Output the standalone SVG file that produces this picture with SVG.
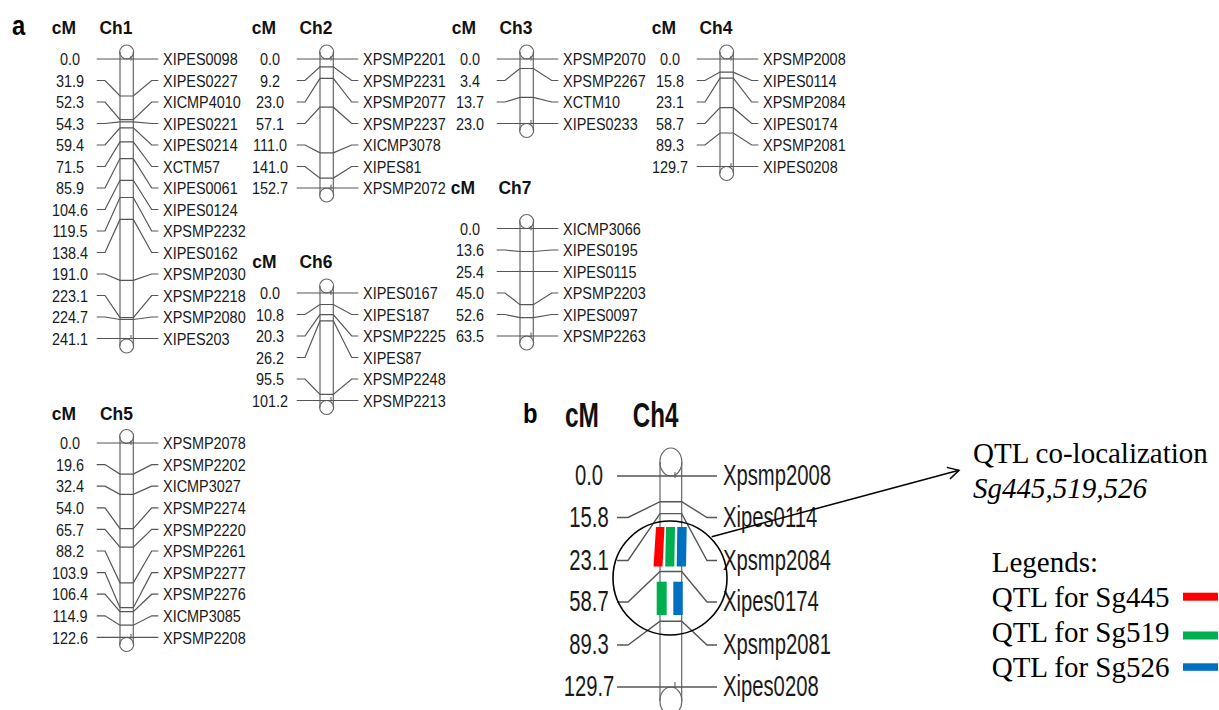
<svg xmlns="http://www.w3.org/2000/svg" width="1219" height="710" viewBox="0 0 1219 710">
<defs>
<style>
.ln{fill:none;stroke:#555;stroke-width:1.2}
.chr{fill:none;stroke:#666;stroke-width:1.2}
.t{font-family:"Liberation Sans",Arial,sans-serif;font-size:17px;fill:#1a1a1a}
.m{text-anchor:middle}
.h{font-family:"Liberation Sans",Arial,sans-serif;font-size:19px;font-weight:bold;fill:#111;text-anchor:middle}
.tb{font-family:"Liberation Sans",Arial,sans-serif;font-size:30px;fill:#1a1a1a}
.hb{font-family:"Liberation Sans",Arial,sans-serif;font-size:35px;font-weight:bold;fill:#111;text-anchor:middle}
.pl{font-family:"Liberation Sans",Arial,sans-serif;font-size:28px;font-weight:bold;fill:#000}
.sf{font-family:"Liberation Serif","Times New Roman",serif;font-size:29px;fill:#000}
.tk{stroke:#555;stroke-width:1}
</style>
<marker id="arr" viewBox="0 0 14 14" refX="12" refY="7" markerWidth="14" markerHeight="14" markerUnits="userSpaceOnUse" orient="auto">
<path d="M1 1 L12 7 L1 13" fill="none" stroke="#000" stroke-width="1.5"/>
</marker>
</defs>
<rect width="1219" height="710" fill="#fff"/>

<g id="label-a"><g transform="translate(12,35) scale(0.85,1)"><text class="pl" x="0" y="0">a</text></g></g>

<!-- Ch1 -->
<g id="ch1">
<g transform="translate(64,34) scale(0.92,1)"><text class="h" x="0" y="0">cM</text></g>
<g transform="translate(116,34) scale(0.92,1)"><text class="h" x="0" y="0">Ch1</text></g>
<line class="chr" x1="120" y1="52" x2="120" y2="346"/><line class="chr" x1="133.3" y1="52" x2="133.3" y2="346"/>
<circle class="chr" cx="126.65" cy="52" r="7"/><circle class="chr" cx="126.65" cy="346" r="7"/>
<line class="tk" x1="131" y1="56" x2="131" y2="60.5"/><line class="tk" x1="131" y1="335" x2="131" y2="339"/>
<path class="ln" d="M96.7 59H158.3M96.7 80.5H105L120 96H133.3L151.7 80.5H158.3M96.7 102H105L120 119.6H133.3L151.7 102H158.3M96.7 123.5H105L120 121.9H133.3L151.7 123.5H158.3M96.7 145H105L120 127.9H133.3L151.7 145H158.3M96.7 166.5H105L120 141.9H133.3L151.7 166.5H158.3M96.7 188H105L120 158.6H133.3L151.7 188H158.3M96.7 209.5H105L120 180.3H133.3L151.7 209.5H158.3M96.7 231H105L120 197.5H133.3L151.7 231H158.3M96.7 252.5H105L120 219.4H133.3L151.7 252.5H158.3M96.7 274H105L120 280.4H133.3L151.7 274H158.3M96.7 295.5H105L120 317.6H133.3L151.7 295.5H158.3M96.7 317H105L120 319.5H133.3L151.7 317H158.3M96.7 338.5H158.3"/>
<g transform="translate(70,0) scale(0.85,1)" class="t m">
<text x="0" y="65.2">0.0</text><text x="0" y="86.7">31.9</text><text x="0" y="108.2">52.3</text><text x="0" y="129.7">54.3</text><text x="0" y="151.2">59.4</text><text x="0" y="172.7">71.5</text><text x="0" y="194.2">85.9</text><text x="0" y="215.7">104.6</text><text x="0" y="237.2">119.5</text><text x="0" y="258.7">138.4</text><text x="0" y="280.2">191.0</text><text x="0" y="301.7">223.1</text><text x="0" y="323.2">224.7</text><text x="0" y="344.7">241.1</text>
</g>
<g transform="translate(163,0) scale(0.85,1)" class="t">
<text x="0" y="65.2">XIPES0098</text><text x="0" y="86.7">XIPES0227</text><text x="0" y="108.2">XICMP4010</text><text x="0" y="129.7">XIPES0221</text><text x="0" y="151.2">XIPES0214</text><text x="0" y="172.7">XCTM57</text><text x="0" y="194.2">XIPES0061</text><text x="0" y="215.7">XIPES0124</text><text x="0" y="237.2">XPSMP2232</text><text x="0" y="258.7">XIPES0162</text><text x="0" y="280.2">XPSMP2030</text><text x="0" y="301.7">XPSMP2218</text><text x="0" y="323.2">XPSMP2080</text><text x="0" y="344.7">XIPES203</text>
</g>
</g>

<!-- Ch2 -->
<g id="ch2">
<g transform="translate(264,34) scale(0.92,1)"><text class="h" x="0" y="0">cM</text></g>
<g transform="translate(316,34) scale(0.92,1)"><text class="h" x="0" y="0">Ch2</text></g>
<line class="chr" x1="320" y1="52" x2="320" y2="195"/><line class="chr" x1="333.3" y1="52" x2="333.3" y2="195"/>
<circle class="chr" cx="326.65" cy="52" r="7"/><circle class="chr" cx="326.65" cy="195" r="7"/>
<line class="tk" x1="331" y1="56" x2="331" y2="60.5"/><line class="tk" x1="331" y1="184.5" x2="331" y2="189"/>
<path class="ln" d="M296.7 59H358.3M296.7 80.5H305L320 66.8H333.3L351.7 80.5H358.3M296.7 102H305L320 78.4H333.3L351.7 102H358.3M296.7 123.5H305L320 107.2H333.3L351.7 123.5H358.3M296.7 145H305L320 152.8H333.3L351.7 145H358.3M296.7 166.5H305L320 178.1H333.3L351.7 166.5H358.3M296.7 188H358.3"/>
<g transform="translate(270,0) scale(0.85,1)" class="t m">
<text x="0" y="65.2">0.0</text><text x="0" y="86.7">9.2</text><text x="0" y="108.2">23.0</text><text x="0" y="129.7">57.1</text><text x="0" y="151.2">111.0</text><text x="0" y="172.7">141.0</text><text x="0" y="194.2">152.7</text>
</g>
<g transform="translate(363,0) scale(0.85,1)" class="t">
<text x="0" y="65.2">XPSMP2201</text><text x="0" y="86.7">XPSMP2231</text><text x="0" y="108.2">XPSMP2077</text><text x="0" y="129.7">XPSMP2237</text><text x="0" y="151.2">XICMP3078</text><text x="0" y="172.7">XIPES81</text><text x="0" y="194.2">XPSMP2072</text>
</g>
</g>

<!-- Ch3 -->
<g id="ch3">
<g transform="translate(464,34) scale(0.92,1)"><text class="h" x="0" y="0">cM</text></g>
<g transform="translate(516,34) scale(0.92,1)"><text class="h" x="0" y="0">Ch3</text></g>
<line class="chr" x1="520" y1="52" x2="520" y2="130.5"/><line class="chr" x1="533.3" y1="52" x2="533.3" y2="130.5"/>
<circle class="chr" cx="526.65" cy="52" r="7"/><circle class="chr" cx="526.65" cy="130.5" r="7"/>
<line class="tk" x1="531" y1="56" x2="531" y2="60.5"/><line class="tk" x1="531" y1="120" x2="531" y2="124.5"/>
<path class="ln" d="M496.7 59H558.3M496.7 80.5H505L520 68.5H533.3L551.7 80.5H558.3M496.7 102H505L520 97.4H533.3L551.7 102H558.3M496.7 123.5H558.3"/>
<g transform="translate(470,0) scale(0.85,1)" class="t m">
<text x="0" y="65.2">0.0</text><text x="0" y="86.7">3.4</text><text x="0" y="108.2">13.7</text><text x="0" y="129.7">23.0</text>
</g>
<g transform="translate(563,0) scale(0.85,1)" class="t">
<text x="0" y="65.2">XPSMP2070</text><text x="0" y="86.7">XPSMP2267</text><text x="0" y="108.2">XCTM10</text><text x="0" y="129.7">XIPES0233</text>
</g>
</g>

<!-- Ch4 (panel a) -->
<g id="ch4">
<g transform="translate(664,34) scale(0.92,1)"><text class="h" x="0" y="0">cM</text></g>
<g transform="translate(716,34) scale(0.92,1)"><text class="h" x="0" y="0">Ch4</text></g>
<line class="chr" x1="720" y1="52" x2="720" y2="173.5"/><line class="chr" x1="733.3" y1="52" x2="733.3" y2="173.5"/>
<circle class="chr" cx="726.65" cy="52" r="7"/><circle class="chr" cx="726.65" cy="173.5" r="7"/>
<line class="tk" x1="731" y1="56" x2="731" y2="60.5"/><line class="tk" x1="731" y1="163" x2="731" y2="167.5"/>
<path class="ln" d="M696.7 59H758.3M696.7 80.5H705L720 72.1H733.3L751.7 80.5H758.3M696.7 102H705L720 78.1H733.3L751.7 102H758.3M696.7 123.5H705L720 107.7H733.3L751.7 123.5H758.3M696.7 145H705L720 133H733.3L751.7 145H758.3M696.7 166.5H758.3"/>
<g transform="translate(670,0) scale(0.85,1)" class="t m">
<text x="0" y="65.2">0.0</text><text x="0" y="86.7">15.8</text><text x="0" y="108.2">23.1</text><text x="0" y="129.7">58.7</text><text x="0" y="151.2">89.3</text><text x="0" y="172.7">129.7</text>
</g>
<g transform="translate(763,0) scale(0.85,1)" class="t">
<text x="0" y="65.2">XPSMP2008</text><text x="0" y="86.7">XIPES0114</text><text x="0" y="108.2">XPSMP2084</text><text x="0" y="129.7">XIPES0174</text><text x="0" y="151.2">XPSMP2081</text><text x="0" y="172.7">XIPES0208</text>
</g>
</g>

<!-- Ch7 -->
<g id="ch7">
<g transform="translate(463,194) scale(0.92,1)"><text class="h" x="0" y="0">cM</text></g>
<g transform="translate(515,194) scale(0.92,1)"><text class="h" x="0" y="0">Ch7</text></g>
<line class="chr" x1="520" y1="221.5" x2="520" y2="343"/><line class="chr" x1="533.3" y1="221.5" x2="533.3" y2="343"/>
<circle class="chr" cx="526.65" cy="221.5" r="7"/><circle class="chr" cx="526.65" cy="343" r="7"/>
<line class="tk" x1="531" y1="226" x2="531" y2="230.5"/><line class="tk" x1="531" y1="332.5" x2="531" y2="337"/>
<path class="ln" d="M496.7 228.5H558.3M496.7 250H505L520 251.5H533.3L551.7 250H558.3M496.7 271.5H558.3M496.7 293H505L520 304.7H533.3L551.7 293H558.3M496.7 314.5H505L520 317.6H533.3L551.7 314.5H558.3M496.7 336H558.3"/>
<g transform="translate(470,0) scale(0.85,1)" class="t m">
<text x="0" y="234.7">0.0</text><text x="0" y="256.2">13.6</text><text x="0" y="277.7">25.4</text><text x="0" y="299.2">45.0</text><text x="0" y="320.7">52.6</text><text x="0" y="342.2">63.5</text>
</g>
<g transform="translate(563,0) scale(0.85,1)" class="t">
<text x="0" y="234.7">XICMP3066</text><text x="0" y="256.2">XIPES0195</text><text x="0" y="277.7">XIPES0115</text><text x="0" y="299.2">XPSMP2203</text><text x="0" y="320.7">XIPES0097</text><text x="0" y="342.2">XPSMP2263</text>
</g>
</g>

<!-- Ch6 -->
<g id="ch6">
<g transform="translate(264.5,268) scale(0.92,1)"><text class="h" x="0" y="0">cM</text></g>
<g transform="translate(316,268) scale(0.92,1)"><text class="h" x="0" y="0">Ch6</text></g>
<line class="chr" x1="320" y1="286" x2="320" y2="407.5"/><line class="chr" x1="333.3" y1="286" x2="333.3" y2="407.5"/>
<circle class="chr" cx="326.65" cy="286" r="7"/><circle class="chr" cx="326.65" cy="407.5" r="7"/>
<line class="tk" x1="331" y1="290.5" x2="331" y2="295"/><line class="tk" x1="331" y1="397" x2="331" y2="401.5"/>
<path class="ln" d="M296.7 293H358.3M296.7 314.5H305L320 304.5H333.3L351.7 314.5H358.3M296.7 336H305L320 314.6H333.3L351.7 336H358.3M296.7 357.5H305L320 320.8H333.3L351.7 357.5H358.3M296.7 379H305L320 394.4H333.3L351.7 379H358.3M296.7 400.5H358.3"/>
<g transform="translate(270,0) scale(0.85,1)" class="t m">
<text x="0" y="299.2">0.0</text><text x="0" y="320.7">10.8</text><text x="0" y="342.2">20.3</text><text x="0" y="363.7">26.2</text><text x="0" y="385.2">95.5</text><text x="0" y="406.7">101.2</text>
</g>
<g transform="translate(363,0) scale(0.85,1)" class="t">
<text x="0" y="299.2">XIPES0167</text><text x="0" y="320.7">XIPES187</text><text x="0" y="342.2">XPSMP2225</text><text x="0" y="363.7">XIPES87</text><text x="0" y="385.2">XPSMP2248</text><text x="0" y="406.7">XPSMP2213</text>
</g>
</g>

<!-- Ch5 -->
<g id="ch5">
<g transform="translate(64,420) scale(0.92,1)"><text class="h" x="0" y="0">cM</text></g>
<g transform="translate(116.5,420) scale(0.92,1)"><text class="h" x="0" y="0">Ch5</text></g>
<line class="chr" x1="120" y1="436.5" x2="120" y2="644.5"/><line class="chr" x1="133.3" y1="436.5" x2="133.3" y2="644.5"/>
<circle class="chr" cx="126.65" cy="436.5" r="7"/><circle class="chr" cx="126.65" cy="644.5" r="7"/>
<line class="tk" x1="131" y1="440.5" x2="131" y2="445"/><line class="tk" x1="131" y1="634" x2="131" y2="638.5"/>
<path class="ln" d="M96.7 443H158.3M96.7 464.6H105L120 474.1H133.3L151.7 464.6H158.3M96.7 486.2H105L120 494.4H133.3L151.7 486.2H158.3M96.7 507.8H105L120 528.6H133.3L151.7 507.8H158.3M96.7 529.4H105L120 547.2H133.3L151.7 529.4H158.3M96.7 551H105L120 582.8H133.3L151.7 551H158.3M96.7 572.6H105L120 607.7H133.3L151.7 572.6H158.3M96.7 594.2H105L120 611.7H133.3L151.7 594.2H158.3M96.7 615.8H105L120 625.2H133.3L151.7 615.8H158.3M96.7 637.4H158.3"/>
<g transform="translate(70,0) scale(0.85,1)" class="t m">
<text x="0" y="449.2">0.0</text><text x="0" y="470.8">19.6</text><text x="0" y="492.4">32.4</text><text x="0" y="514">54.0</text><text x="0" y="535.6">65.7</text><text x="0" y="557.2">88.2</text><text x="0" y="578.8">103.9</text><text x="0" y="600.4">106.4</text><text x="0" y="622">114.9</text><text x="0" y="643.6">122.6</text>
</g>
<g transform="translate(163,0) scale(0.85,1)" class="t">
<text x="0" y="449.2">XPSMP2078</text><text x="0" y="470.8">XPSMP2202</text><text x="0" y="492.4">XICMP3027</text><text x="0" y="514">XPSMP2274</text><text x="0" y="535.6">XPSMP2220</text><text x="0" y="557.2">XPSMP2261</text><text x="0" y="578.8">XPSMP2277</text><text x="0" y="600.4">XPSMP2276</text><text x="0" y="622">XICMP3085</text><text x="0" y="643.6">XPSMP2208</text>
</g>
</g>

<!-- Panel b: Ch4 enlarged -->
<g id="label-b"><g transform="translate(523,423) scale(0.85,1)"><text class="pl" x="0" y="0">b</text></g></g>
<g id="ch4-b">
<g transform="translate(582,427) scale(0.7,1)"><text class="hb" x="0" y="0">cM</text></g>
<g transform="translate(655.5,427) scale(0.69,1)"><text class="hb" x="0" y="0">Ch4</text></g>
<line class="chr" x1="660" y1="462" x2="660" y2="701" stroke-width="1.4"/><line class="chr" x1="681.7" y1="462" x2="681.7" y2="701"/>
<ellipse class="chr" cx="670.85" cy="462" rx="11" ry="14"/><ellipse class="chr" cx="670.85" cy="701" rx="11" ry="14"/>
<line class="tk" x1="675" y1="472" x2="675" y2="478"/><line class="tk" x1="675" y1="682" x2="675" y2="688"/>
<path class="ln" style="stroke-width:1.4" d="M617 476H717M617 517.5H628L660 501.7H681.7L707 517.5H717M617 560.5H628L660 513.6H681.7L707 560.5H717M617 602H628L660 571.5H681.7L707 602H717M617 645H628L660 621.3H681.7L707 645H717M617 687H717"/>
<g transform="translate(589,0) scale(0.675,1)" class="tb m">
<text x="0" y="485.5">0.0</text><text x="0" y="527">15.8</text><text x="0" y="570">23.1</text><text x="0" y="611.5">58.7</text><text x="0" y="654.5">89.3</text><text x="0" y="696.5">129.7</text>
</g>
<g transform="translate(723,0) scale(0.675,1)" class="tb">
<text x="0" y="485.5">Xpsmp2008</text><text x="0" y="527">Xipes0114</text><text x="0" y="570">Xpsmp2084</text><text x="0" y="611.5">Xipes0174</text><text x="0" y="654.5">Xpsmp2081</text><text x="0" y="696.5">Xipes0208</text>
</g>
</g>

<g id="qtl-bars">
<polygon points="656,527 664.5,527 662.5,566.5 653.5,566.5" fill="#ff0000"/>
<polygon points="666,527 675,527 674.3,566.5 665.2,566.5" fill="#00b050"/>
<polygon points="677.3,527 686.7,527 686,566.5 676.7,566.5" fill="#0070c0"/>
<rect x="656.7" y="581.7" width="10" height="33.3" fill="#00b050"/>
<rect x="673.3" y="581.7" width="9.4" height="33.3" fill="#0070c0"/>
</g>

<g id="colocalization-circle">
<circle cx="670" cy="578" r="57" fill="none" stroke="#000" stroke-width="1.6"/>
</g>

<g id="connectors">
<line x1="711.7" y1="536.7" x2="959" y2="470.3" stroke="#000" stroke-width="1.5" marker-end="url(#arr)"/>
</g>

<g id="annotation">
<text class="sf" x="973" y="463">QTL co-localization</text>
<text class="sf" x="973" y="498" font-style="italic">Sg445,519,526</text>
</g>

<g id="legend">
<text class="sf" x="991.7" y="572">Legends:</text>
<text class="sf" x="991.7" y="607">QTL for Sg445</text>
<text class="sf" x="991.7" y="642">QTL for Sg519</text>
<text class="sf" x="991.7" y="677">QTL for Sg526</text>
<rect x="1183" y="592.7" width="35" height="8" fill="#ff0000"/>
<rect x="1183" y="631.5" width="35" height="8" fill="#00b050"/>
<rect x="1183" y="663.3" width="35" height="7.5" fill="#0070c0"/>
</g>
</svg>
